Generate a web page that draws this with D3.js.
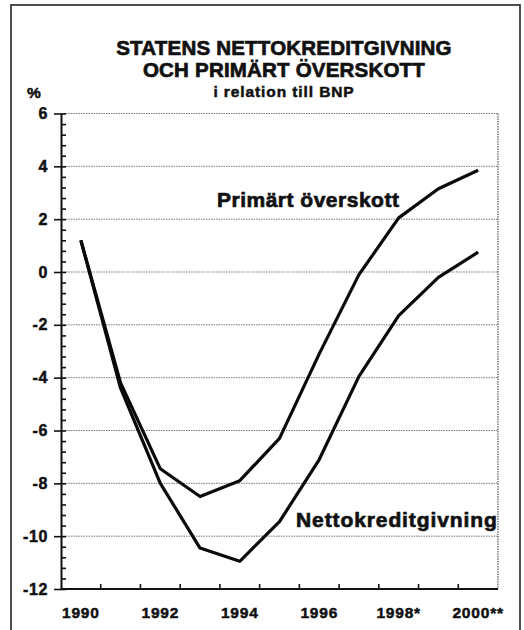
<!DOCTYPE html>
<html>
<head>
<meta charset="utf-8">
<script src="https://cdn.jsdelivr.net/npm/d3@7/dist/d3.min.js"></script>
<style>
  html, body { margin: 0; padding: 0; background: #fff; }
  svg { display: block; }
  text { font-family: "Liberation Sans", Arial, Helvetica, sans-serif; font-weight: bold; fill: #111; stroke: #111; stroke-width: 0.5px; }
</style>
</head>
<body>
<svg id="chart" width="524" height="630"></svg>
<script>
// Statens nettokreditgivning och primärt överskott, % av BNP
const years = [1990, 1991, 1992, 1993, 1994, 1995, 1996, 1997, 1998, 1999, 2000];
const primartOverskott = [1.2, -4.2, -7.45, -8.5, -7.9, -6.3, -3.1, -0.1, 2.05, 3.15, 3.85];
const nettokreditgivning = [1.2, -4.4, -8.0, -10.45, -10.95, -9.45, -7.1, -3.95, -1.65, -0.2, 0.75];

const xLabelYears = [1990, 1992, 1994, 1996, 1998, 2000];
const xLabelTexts = ["1990", "1992", "1994", "1996", "1998*", "2000**"];
const yMajorTicks = [-12, -10, -8, -6, -4, -2, 0, 2, 4, 6];
const yGridValues = [-10, -8, -6, -4, -2, 0, 2, 4, 6];

const titleLines = ["STATENS NETTOKREDITGIVNING", "OCH PRIMÄRT ÖVERSKOTT", "i relation till BNP"];

const svg = d3.select("#chart");
const plot = { left: 61, right: 498, top: 113.5, bottom: 589 };

// Outer frame
svg.append("rect")
  .attr("x", 11).attr("y", 5)
  .attr("width", 509).attr("height", 640)
  .attr("fill", "none").attr("stroke", "#222").attr("stroke-width", 1.6);

const x = d3.scaleBand().domain(years).range([plot.left, plot.right]).padding(0);
const cx = d => x(d) + x.bandwidth() / 2;
const y = d3.scaleLinear().domain([-12, 6]).range([plot.bottom, plot.top]);

// Dotted gridlines
svg.append("g")
  .selectAll("line")
  .data(yGridValues)
  .join("line")
  .attr("x1", plot.left).attr("x2", plot.right)
  .attr("y1", d => y(d)).attr("y2", d => y(d))
  .attr("stroke", "#777").attr("stroke-width", 1)
  .attr("stroke-dasharray", "1.5,1");

// Dotted right border of the plot area
svg.append("line")
  .attr("x1", plot.right).attr("x2", plot.right)
  .attr("y1", y(6)).attr("y2", y(-12))
  .attr("stroke", "#555").attr("stroke-width", 1.2)
  .attr("stroke-dasharray", "1.5,1");

// Minor y ticks (every 0.4), pointing into the plot
const minorTicks = d3.range(-12, 6.001, 0.4).map(v => +v.toFixed(1));
svg.append("g")
  .attr("transform", `translate(${plot.left},0)`)
  .call(d3.axisRight(y).tickValues(minorTicks).tickSize(5).tickFormat(""))
  .call(g => g.select(".domain").remove())
  .call(g => g.selectAll(".tick line").attr("stroke", "#111").attr("stroke-width", 1.6));

// Major y axis with labels
svg.append("g")
  .attr("transform", `translate(${plot.left},0)`)
  .call(d3.axisLeft(y).tickValues(yMajorTicks).tickSize(7).tickPadding(6).tickSizeOuter(0)
    .tickFormat(d => d3.format("d")(d).replace("−", "-")))
  .call(g => g.select(".domain").attr("stroke", "#111").attr("stroke-width", 2))
  .call(g => g.selectAll(".tick line").attr("stroke", "#111").attr("stroke-width", 1.6))
  .call(g => g.selectAll(".tick text")
    .attr("font-size", 16).attr("letter-spacing", 0.6)
    .attr("font-family", "'Liberation Sans', Arial, sans-serif")
    .attr("font-weight", "bold").attr("fill", "#111"));

// X axis: ticks on category boundaries, labels under every second year
svg.append("line")
  .attr("x1", plot.left).attr("x2", plot.right)
  .attr("y1", plot.bottom).attr("y2", plot.bottom)
  .attr("stroke", "#111").attr("stroke-width", 2);

svg.append("g")
  .selectAll("line")
  .data(years.slice(1))
  .join("line")
  .attr("x1", d => x(d)).attr("x2", d => x(d))
  .attr("y1", plot.bottom).attr("y2", plot.bottom - 5)
  .attr("stroke", "#111").attr("stroke-width", 1.6);

svg.append("g")
  .selectAll("text")
  .data(xLabelYears)
  .join("text")
  .attr("x", d => cx(d))
  .attr("y", 618)
  .attr("text-anchor", "middle")
  .attr("font-size", 15.5)
  .attr("letter-spacing", 0.8)
  .text((d, i) => xLabelTexts[i]);

// Series lines
const line = d3.line().x((d, i) => cx(years[i])).y(d => y(d));
[primartOverskott, nettokreditgivning].forEach(series => {
  svg.append("path")
    .datum(series)
    .attr("d", line)
    .attr("fill", "none")
    .attr("stroke", "#0a0a0a")
    .attr("stroke-width", 3.2)
    .attr("stroke-linejoin", "round");
});

// Series labels
svg.append("text").attr("x", 217).attr("y", 207)
  .attr("font-size", 21).attr("letter-spacing", 0.5)
  .style("stroke-width", "0.7px")
  .text("Primärt överskott");
svg.append("text").attr("x", 296).attr("y", 527)
  .attr("font-size", 21).attr("letter-spacing", 0.9)
  .style("stroke-width", "0.7px")
  .text("Nettokreditgivning");

// Title
const titleSizes = [20.5, 20.5, 15.5];
const titleY = [55, 77, 97];
titleLines.forEach((t, i) => {
  svg.append("text")
    .attr("x", 284).attr("y", titleY[i])
    .attr("text-anchor", "middle")
    .attr("font-size", titleSizes[i])
    .attr("letter-spacing", i === 2 ? 0.9 : 0.2)
    .style("stroke-width", i === 2 ? "0.5px" : "0.7px")
    .text(t);
});

// Unit label
svg.append("text").attr("x", 34).attr("y", 98)
  .attr("text-anchor", "middle").attr("font-size", 15.5)
  .text("%");
</script>
</body>
</html>
